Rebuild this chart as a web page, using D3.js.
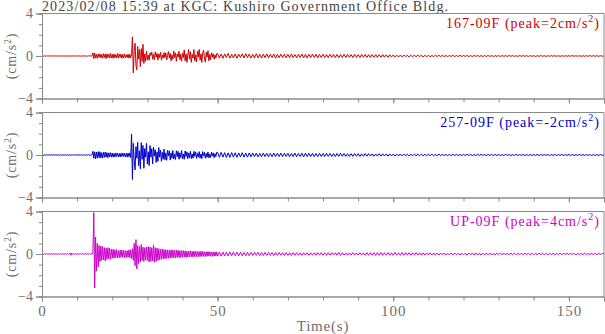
<!DOCTYPE html>
<html><head><meta charset="utf-8">
<script src="https://cdn.jsdelivr.net/npm/d3@7"></script>
<style>
body{margin:0;background:#fff;}
svg{display:block;font-family:"Liberation Serif","Times New Roman",serif;}
</style></head>
<body><svg id="chart" width="605" height="334"></svg>
<script>
const titleText = "2023/02/08 15:39 at KGC: Kushiro Government Office Bldg.";
const channelNames = ["167-09F", "257-09F", "UP-09F"];
const peakValues = ["2", "-2", "4"];
const traceColors = ["#cc0000", "#0000cc", "#cc00cc"];
const xTicks = [0, 50, 100, 150];
const yTicks = [-4, 0, 4];
const earlyStep = 0.25;   // s, samples from 0 to 49.75 s
const tailStart = 50, tailStep = 0.5; // s, samples from 50 to 160 s

const redEarly = [
0,0.02,-0.02,0.01,-0.02,0.02,-0.01,0.02,-0.02,0.01,0,0.02,-0.02,0.01,-0.01,0.02,-0.02,0.01,-0.01,0.02,
-0.02,0.01,-0.01,0.02,-0.02,0.02,-0.01,0.01,-0.02,0.02,-0.01,0.02,-0.02,0.01,-0.01,0.02,-0.02,0.02,-0.01,0.01,
-0.02,0.02,-0.01,0.02,-0.02,0.01,-0.02,0.02,-0.01,0.02,-0.02,0.01,-0.02,0.02,-0.01,0.02,-0.02,0.01,0.3,-0.25,
0.28,-0.2,0.15,-0.22,0.18,-0.12,0.2,-0.18,0.14,-0.2,0.22,-0.15,0.18,-0.25,0.2,-0.14,0.16,-0.2,0.25,-0.18,
0.15,-0.22,0.2,-0.16,0.12,-0.18,0.24,-0.2,0.16,-0.12,0.18,-0.22,0.14,-0.16,0.2,-0.18,0.12,-0.15,0.18,-0.2,
0.15,-0.18,0.2,1.8,-1.6,0.5,1.2,-0.9,-1.3,0.9,-0.3,0.6,-1.0,0.7,-0.5,1.1,-0.7,0.2,-0.5,0.45,
-0.35,0.1,-0.4,0.3,0.05,0.38,-0.3,0.15,-0.35,0.4,-0.1,0.25,-0.38,0.2,-0.15,0.35,-0.4,0.1,-0.2,0.32,
-0.15,0.3,-0.38,0.05,0.42,-0.2,0.25,-0.45,0.1,-0.3,0.48,-0.15,0.3,-0.5,0.2,-0.1,0.45,-0.35,0.15,-0.5,
0.3,-0.15,0.58,-0.45,0.2,-0.6,0.1,0.62,-0.3,0.4,-0.6,0.15,-0.2,0.6,-0.45,0.1,-0.55,0.45,-0.1,0.62,
-0.4,0.2,-0.6,0.3,0.55,-0.2,-0.58,0.35,-0.1,0.5,-0.45,0.15,-0.35,0.3,-0.1,0.22,-0.3,0.1,-0.2,0.22];
const redTail = [
0.22,-0.2,0.18,-0.22,0.2,-0.15,0.24,-0.2,0.16,-0.18,0.2,-0.22,0.18,-0.15,0.2,-0.18,0.22,-0.16,0.18,-0.2,
0.16,-0.2,0.22,-0.18,0.15,-0.2,0.18,-0.15,0.2,-0.18,0.16,-0.14,0.18,-0.2,0.15,-0.16,0.18,-0.14,0.16,-0.18,
0.15,-0.16,0.18,-0.15,0.14,-0.18,0.16,-0.14,0.18,-0.16,0.15,-0.18,0.16,-0.15,0.18,-0.14,0.16,-0.18,0.15,-0.14,
0.16,-0.15,0.14,-0.16,0.15,-0.13,0.16,-0.15,0.14,-0.16,0.13,-0.15,0.16,-0.14,0.15,-0.13,0.14,-0.15,0.16,-0.14,
0.13,-0.14,0.15,-0.12,0.14,-0.13,0.12,-0.14,0.13,-0.12,0.14,-0.13,0.12,-0.11,0.13,-0.12,0.11,-0.13,0.12,-0.1,
0.1,-0.09,0.08,-0.1,0.09,-0.08,0.1,-0.07,0.08,-0.09,0.07,-0.08,0.09,-0.07,0.08,-0.06,0.07,-0.08,0.06,-0.07,
0.06,-0.07,0.05,-0.06,0.07,-0.05,0.06,-0.05,0.07,-0.06,0.05,-0.06,0.05,-0.04,0.06,-0.05,0.04,-0.05,0.06,-0.04,
0.05,-0.04,0.05,-0.06,0.04,-0.05,0.05,-0.04,0.06,-0.05,0.04,-0.05,0.04,-0.04,0.05,-0.04,0.04,-0.05,0.04,-0.04,
0.04,-0.05,0.04,-0.03,0.04,-0.04,0.05,-0.03,0.04,-0.04,0.03,-0.04,0.04,-0.03,0.04,-0.03,0.03,-0.04,0.04,-0.03,
0.03,-0.04,0.03,-0.03,0.04,-0.03,0.03,-0.04,0.03,-0.03,0.04,-0.03,0.03,-0.03,0.03,-0.04,0.03,-0.03,0.03,-0.03,
0.03,-0.03,0.04,-0.03,0.03,-0.03,0.03,-0.04,0.03,-0.03,0.03,-0.03,0.04,-0.03,0.03,-0.03,0.03,-0.03,0.03,-0.02,0];

const blueEarly = [
0,0.02,-0.02,0.01,-0.02,0.02,-0.01,0.02,-0.02,0.01,-0.01,0.02,-0.02,0.01,-0.02,0.02,-0.01,0.02,-0.02,0.01,
-0.02,0.02,-0.01,0.02,-0.02,0.01,-0.02,0.02,-0.01,0.02,-0.02,0.01,-0.01,0.02,-0.02,0.01,-0.02,0.02,-0.01,0.02,
-0.01,0.02,-0.02,0.01,-0.02,0.02,-0.01,0.02,-0.02,0.01,-0.02,0.02,-0.01,0.02,-0.02,0.01,-0.02,0.02,0.35,-0.3,
0.3,-0.35,0.28,-0.3,0.32,-0.25,0.3,-0.28,0.22,-0.3,0.25,-0.22,0.28,-0.2,0.22,-0.25,0.2,-0.18,0.22,-0.2,
0.18,-0.2,0.15,-0.18,0.2,-0.15,0.18,-0.16,0.14,-0.18,0.16,-0.15,0.18,-0.14,0.16,-0.18,0.15,-0.2,0.18,-0.16,
0.2,-0.25,1.95,-2.3,1.1,-0.5,-1.4,0.8,-0.3,1.2,-1.0,0.4,-1.3,1.15,-0.4,0.9,-1.25,0.6,-0.2,1.1,
-0.85,0.3,-1.0,0.9,-0.2,0.6,-0.85,0.75,-0.1,0.5,-0.7,0.3,-0.6,0.7,-0.2,0.45,-0.6,0.25,-0.4,0.55,
-0.45,0.2,-0.5,0.45,-0.1,0.4,-0.48,0.2,-0.3,0.42,-0.38,0.1,-0.42,0.4,-0.15,0.35,-0.4,0.2,-0.25,0.42,
-0.36,0.1,-0.4,0.38,-0.15,0.3,-0.36,0.2,-0.25,0.35,-0.34,0.1,-0.3,0.34,-0.12,0.3,-0.32,0.15,-0.2,0.32,
-0.3,0.1,-0.34,0.32,-0.1,0.25,-0.3,0.15,-0.22,0.28,-0.26,0.08,-0.25,0.27,-0.1,0.2,-0.26,0.12,-0.15,0.26];
const blueTail = [
0.24,-0.22,0.25,-0.2,0.22,-0.24,0.2,-0.22,0.23,-0.2,0.21,-0.22,0.2,-0.18,0.22,-0.2,0.18,-0.2,0.19,-0.17,
0.18,-0.16,0.17,-0.18,0.15,-0.17,0.18,-0.15,0.16,-0.17,0.15,-0.16,0.18,-0.15,0.16,-0.14,0.17,-0.15,0.16,-0.14,
0.15,-0.16,0.14,-0.15,0.18,-0.16,0.15,-0.14,0.16,-0.18,0.17,-0.15,0.16,-0.14,0.15,-0.16,0.14,-0.15,0.16,-0.14,
0.15,-0.14,0.16,-0.13,0.15,-0.14,0.13,-0.15,0.14,-0.13,0.15,-0.12,0.14,-0.13,0.12,-0.14,0.13,-0.12,0.14,-0.12,
0.12,-0.13,0.11,-0.12,0.13,-0.11,0.12,-0.1,0.11,-0.12,0.1,-0.11,0.12,-0.1,0.11,-0.1,0.1,-0.11,0.1,-0.09,
0.09,-0.1,0.08,-0.09,0.1,-0.08,0.09,-0.08,0.08,-0.09,0.07,-0.08,0.09,-0.07,0.08,-0.07,0.08,-0.08,0.07,-0.07,
0.07,-0.06,0.08,-0.07,0.06,-0.07,0.08,-0.06,0.07,-0.06,0.06,-0.07,0.06,-0.06,0.07,-0.05,0.06,-0.06,0.05,-0.06,
0.06,-0.05,0.06,-0.05,0.07,-0.06,0.05,-0.06,0.08,-0.06,0.06,-0.05,0.05,-0.06,0.05,-0.05,0.06,-0.05,0.05,-0.05,
0.05,-0.05,0.04,-0.05,0.05,-0.04,0.05,-0.05,0.04,-0.05,0.06,-0.04,0.05,-0.04,0.04,-0.05,0.04,-0.04,0.05,-0.04,
0.04,-0.05,0.06,-0.05,0.04,-0.04,0.05,-0.04,0.04,-0.05,0.04,-0.04,0.06,-0.05,0.04,-0.04,0.05,-0.04,0.04,-0.04,
0.05,-0.04,0.04,-0.05,0.04,-0.04,0.05,-0.04,0.04,-0.04,0.05,-0.04,0.04,-0.04,0.04,-0.05,0.04,-0.04,0.04,-0.03,0];

const magentaEarly = [
0,0.02,-0.03,0.02,-0.02,0.03,-0.02,0.02,-0.03,0.02,-0.02,0.03,-0.02,0.02,-0.02,0.03,-0.03,0.02,-0.02,0.02,
-0.03,0.02,-0.02,0.03,-0.02,0.02,-0.03,0.02,-0.02,0.03,-0.02,0.02,0.1,-0.12,0.08,-0.03,0.02,-0.02,0.03,-0.02,
0.02,-0.03,0.02,-0.02,0.03,-0.02,0.02,-0.03,0.02,-0.02,0.03,-0.02,0.02,-0.03,0.02,-0.02,0.03,-0.02,0.2,3.9,
-3.2,1.6,-1.6,1.0,-1.2,0.8,-0.7,0.75,-0.6,0.7,-0.55,0.6,-0.65,0.55,-0.5,0.6,-0.45,0.55,-0.5,0.45,
-0.4,0.45,-0.38,0.4,-0.35,0.42,-0.36,0.3,-0.35,0.38,-0.32,0.35,-0.3,0.36,-0.34,0.3,-0.35,0.32,-0.3,0.38,
-0.35,0.4,-0.45,0.5,-0.6,1.0,-1.1,1.35,-1.4,0.8,-0.9,0.7,-0.75,0.9,-0.6,0.65,-0.7,0.6,-0.55,0.65,
-0.6,0.7,-0.75,0.65,-0.7,0.6,-0.65,0.85,-0.78,0.6,-0.7,0.55,-0.6,0.5,-0.55,0.45,-0.5,0.48,-0.45,0.42,
-0.45,0.4,-0.42,0.38,-0.4,0.36,-0.38,0.4,-0.35,0.38,-0.36,0.34,-0.38,0.35,-0.32,0.36,-0.34,0.3,-0.33,0.32,
-0.3,0.32,-0.28,0.3,-0.32,0.27,-0.3,0.28,-0.26,0.3,-0.27,0.25,-0.28,0.26,-0.24,0.27,-0.25,0.24,-0.26,0.23,
-0.24,0.25,-0.22,0.24,-0.23,0.22,-0.24,0.2,-0.22,0.23,-0.2,0.22,-0.21,0.2,-0.22,0.19,-0.2,0.21,-0.19,0.2];
const magentaTail = [
-0.2,0.19,-0.2,0.18,-0.19,0.17,-0.18,0.2,-0.17,0.18,-0.16,0.17,-0.18,0.16,-0.17,0.15,-0.16,0.17,-0.15,0.16,
-0.15,0.16,-0.14,0.15,-0.16,0.14,-0.15,0.14,-0.13,0.15,-0.14,0.13,-0.15,0.14,-0.13,0.14,-0.12,0.13,-0.14,0.12,
-0.13,0.12,-0.14,0.13,-0.12,0.13,-0.12,0.11,-0.13,0.12,-0.11,0.12,-0.13,0.11,-0.12,0.11,-0.12,0.13,-0.11,0.12,
-0.12,0.11,-0.13,0.12,-0.11,0.12,-0.1,0.11,-0.12,0.14,-0.13,0.12,-0.11,0.1,-0.12,0.11,-0.1,0.12,-0.11,0.1,
-0.11,0.12,-0.1,0.11,-0.12,0.13,-0.12,0.14,-0.13,0.12,-0.14,0.13,-0.12,0.14,-0.13,0.12,-0.11,0.13,-0.12,0.11,
-0.12,0.13,-0.11,0.12,-0.13,0.14,-0.12,0.13,-0.11,0.12,-0.13,0.11,-0.12,0.13,-0.1,0.11,-0.12,0.1,-0.11,0.1,
-0.1,0.11,-0.09,0.1,-0.11,0.09,-0.1,0.09,-0.08,0.1,-0.09,0.08,-0.09,0.1,-0.08,0.09,-0.08,0.09,-0.1,0.08,
-0.09,0.08,-0.1,0.09,-0.08,0.1,-0.09,0.11,-0.1,0.09,-0.1,0.08,-0.09,0.1,-0.08,0.09,-0.1,0.08,-0.09,0.08,
-0.08,0.09,-0.07,0.08,-0.09,0.1,-0.09,0.08,-0.07,0.09,-0.08,0.07,-0.08,0.09,-0.07,0.08,-0.07,0.08,-0.09,0.07,
-0.08,0.07,-0.08,0.09,-0.07,0.08,-0.07,0.06,-0.08,0.07,-0.06,0.07,-0.08,0.06,-0.07,0.08,-0.06,0.07,-0.06,0.07,
-0.06,0.07,-0.06,0.07,-0.08,0.06,-0.07,0.06,-0.06,0.07,-0.06,0.05,-0.06,0.07,-0.06,0.05,-0.06,0.06,-0.05,0.06,0];

const traces = [
  {early: redEarly, tail: redTail},
  {early: blueEarly, tail: blueTail},
  {early: magentaEarly, tail: magentaTail}
];

const svg = d3.select("#chart");
svg.append("rect").attr("width", 605).attr("height", 334).attr("fill", "#fff");

const left = 42, right = 604, panelH = 85, panelTop0 = 13.5, panelGap = 99;
const axisColor = "#8a8a8a", textColor = "#6e6e6e";
const x = d3.scaleLinear().domain([0, 160]).range([left, right]);

svg.append("text").attr("x", 42).attr("y", 10.5)
  .attr("font-size", 14).attr("fill", "#444")
  .attr("textLength", 406).attr("lengthAdjust", "spacing")
  .text(titleText);

traces.forEach((tr, i) => {
  const top = panelTop0 + i * panelGap;
  const y = d3.scaleLinear().domain([-4, 4]).range([top + panelH, top]);
  const g = svg.append("g");

  const pts = tr.early.map((v, k) => [k * earlyStep, v])
    .concat(tr.tail.map((v, k) => [tailStart + k * tailStep, v]));

  g.append("path").datum(pts)
    .attr("fill", "none").attr("stroke", traceColors[i]).attr("stroke-width", 1)
    .attr("d", d3.line().x(d => x(d[0])).y(d => y(d[1])));

  // frame top/right
  g.append("line").attr("x1", left).attr("x2", right).attr("y1", top).attr("y2", top)
    .attr("stroke", axisColor).attr("stroke-width", 1);
  g.append("line").attr("x1", right).attr("x2", right).attr("y1", top).attr("y2", top + panelH)
    .attr("stroke", axisColor).attr("stroke-width", 1);

  // y axis
  const yMinor = g.append("g").attr("transform", `translate(${left},0)`)
    .call(d3.axisLeft(y).tickValues(d3.range(-4, 5)).tickSize(3).tickFormat(""));
  const yMajor = g.append("g").attr("transform", `translate(${left},0)`)
    .call(d3.axisLeft(y).tickValues(yTicks).tickSize(6).tickPadding(3).tickFormat(d3.format("d")));
  [yMinor, yMajor].forEach(a => {
    a.select(".domain").attr("stroke", axisColor);
    a.selectAll(".tick line").attr("stroke", axisColor);
    a.selectAll("text").attr("fill", textColor).attr("font-size", 14)
      .attr("font-family", "Liberation Serif, serif");
  });

  // x axis
  const xMinor = g.append("g").attr("transform", `translate(0,${top + panelH})`)
    .call(d3.axisBottom(x).tickValues(d3.range(0, 161, 10)).tickSize(4).tickFormat(""));
  const xMajor = g.append("g").attr("transform", `translate(0,${top + panelH})`)
    .call(d3.axisBottom(x).tickValues(xTicks).tickSize(5).tickPadding(4)
      .tickFormat(i === 2 ? d3.format("d") : ""));
  [xMinor, xMajor].forEach(a => {
    a.select(".domain").attr("stroke", axisColor);
    a.selectAll(".tick line").attr("stroke", axisColor);
    a.selectAll("text").attr("fill", textColor).attr("font-size", 15)
      .attr("letter-spacing", 1).attr("font-family", "Liberation Serif, serif");
  });

  // y title
  const yt = g.append("text")
    .attr("transform", `translate(16,${top + panelH / 2}) rotate(-90)`)
    .attr("text-anchor", "middle").attr("font-size", 14).attr("letter-spacing", 0.8)
    .attr("fill", textColor);
  yt.append("tspan").text("(cm/s");
  yt.append("tspan").attr("dy", -5).attr("font-size", 10).text("2");
  yt.append("tspan").attr("dy", 5).text(")");

  // channel label
  const lab = g.append("text").attr("x", 600).attr("y", top + 14)
    .attr("text-anchor", "end").attr("font-size", 14).attr("letter-spacing", 1)
    .attr("fill", traceColors[i]);
  lab.append("tspan").text(`${channelNames[i]} (peak=${peakValues[i]}cm/s`);
  lab.append("tspan").attr("dy", -6).attr("font-size", 10).text("2");
  lab.append("tspan").attr("dy", 6).text(")");
});

svg.append("text").attr("x", (left + right) / 2).attr("y", 331)
  .attr("text-anchor", "middle").attr("font-size", 15).attr("letter-spacing", 0.8)
  .attr("fill", textColor)
  .text("Time(s)");
</script></body></html>
